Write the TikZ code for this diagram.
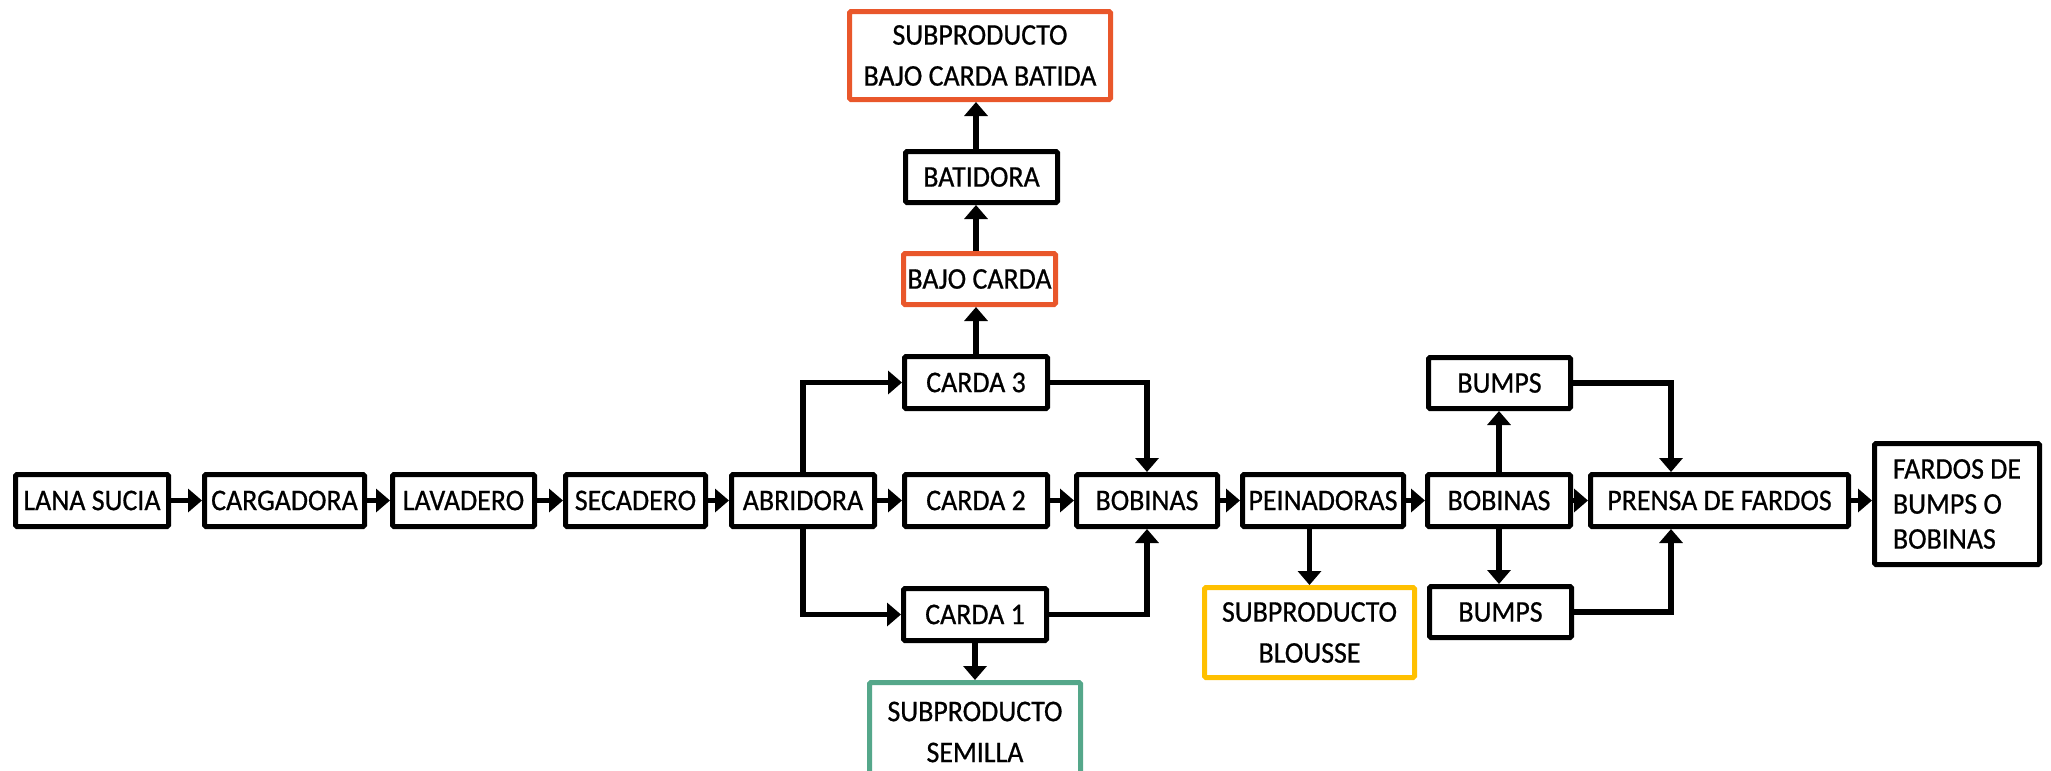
\documentclass[tikz,border=0pt]{standalone}
\usepackage{fontspec}
\setmainfont{Carlito}[FakeBold=0.7,FakeStretch=0.93]
\usetikzlibrary{arrows.meta}
\definecolor{subred}{HTML}{E9572B}
\definecolor{subgreen}{HTML}{55A78A}
\definecolor{subyellow}{HTML}{FFC000}
\newcommand\bx[7]{\node[box,#6,minimum width={#4-#2-5}, minimum height={#5-#3-5}] (#1) at ({(#2+#4)/2},{(#3+#5)/2}) {#7};}
\begin{document}
\begin{tikzpicture}[x=1pt,y=-1pt,
  box/.style={draw=black, line width=5pt, rounded corners=1.5pt, fill=white, inner sep=0pt,
    font=\fontsize{30}{41}\selectfont, align=center},
  redbox/.style={draw=subred},
  greenbox/.style={draw=subgreen},
  yellowbox/.style={draw=subyellow},
  plain/.style={},
  arr/.style={line width=5.5pt, -{Triangle[length=14pt,width=23pt]}}]
\useasboundingbox (0,0) rectangle (2051,771);
\clip (0,0) rectangle (2051,771);
% main row
\bx{lana}{13}{472}{171}{529}{plain}{LANA SUCIA}
\bx{carg}{202}{472}{367}{529}{plain}{CARGADORA}
\bx{lav}{390}{472}{537}{529}{plain}{LAVADERO}
\bx{sec}{563}{472}{708}{529}{plain}{SECADERO}
\bx{abr}{729}{472}{877}{529}{plain}{ABRIDORA}
\bx{cdos}{902}{472}{1050}{529}{plain}{CARDA 2}
\bx{bobA}{1074}{472}{1220}{529}{plain}{BOBINAS}
\bx{pei}{1240}{472}{1406}{529}{plain}{PEINADORAS}
\bx{bobB}{1425}{472}{1573}{529}{plain}{BOBINAS}
\bx{prensa}{1588}{472}{1851}{529}{plain}{PRENSA DE FARDOS}
\node[box, minimum width=165, minimum height=121, inner xsep=14pt, align=left,
  font=\fontsize{30}{35}\selectfont] (fardos) at (1957,504) {FARDOS DE\\BUMPS O\\BOBINAS};
% cards
\bx{ctres}{902}{354}{1050}{411}{plain}{CARDA 3}
\bx{cuno}{901}{586}{1049}{643}{plain}{CARDA 1}
\bx{semilla}{867}{680}{1083}{784}{greenbox}{SUBPRODUCTO\\SEMILLA}
\bx{blousse}{1202}{585}{1417}{680}{yellowbox}{SUBPRODUCTO\\BLOUSSE}
\bx{bajo}{901}{251}{1058}{307}{redbox}{BAJO CARDA}
\bx{batid}{903}{149}{1060}{205}{plain}{BATIDORA}
\bx{subbat}{847}{9}{1113}{102}{redbox}{SUBPRODUCTO\\BAJO CARDA BATIDA}
\bx{bumpsA}{1426}{355}{1573}{411}{plain}{BUMPS}
\bx{bumpsB}{1427}{584}{1574}{640}{plain}{BUMPS}
\coordinate (pj) at (1671,500);
% connectors main row
\draw[arr] (lana.east) -- (carg.west);
\draw[arr] (carg.east) -- (lav.west);
\draw[arr] (lav.east) -- (sec.west);
\draw[arr] (sec.east) -- (abr.west);
\draw[arr] (abr.east) -- (cdos.west);
\draw[arr] (cdos.east) -- (bobA.west);
\draw[arr] (bobA.east) -- (pei.west);
\draw[arr] (pei.east) -- (bobB.west);
\draw[arr] (bobB.east) -- (prensa.west);
\draw[arr] (prensa.east) -- (prensa.east -| fardos.west);
% branches
\draw[arr] (abr.north) |- (ctres.west);
\draw[arr] (abr.south) |- (cuno.west);
\draw[arr] (ctres.east) -| (bobA.north);
\draw[arr] (cuno.east) -| (bobA.south);
\draw[arr] (ctres.north) -- (ctres.north |- bajo.south);
\draw[arr] (ctres.north |- bajo.north) -- (ctres.north |- batid.south);
\draw[arr] (ctres.north |- batid.north) -- (ctres.north |- subbat.south);
\draw[arr] (cuno.south) -- (cuno.south |- semilla.north);
\draw[arr] (pei.south -| blousse.north) -- (blousse.north);
\draw[arr] (bobB.north) -- (bobB.north |- bumpsA.south);
\draw[arr] (bobB.south) -- (bobB.south |- bumpsB.north);
\draw[arr] (bumpsA.east) -| (prensa.north -| pj);
\draw[arr] (bumpsB.east) -| (prensa.south -| pj);
\end{tikzpicture}
\end{document}
